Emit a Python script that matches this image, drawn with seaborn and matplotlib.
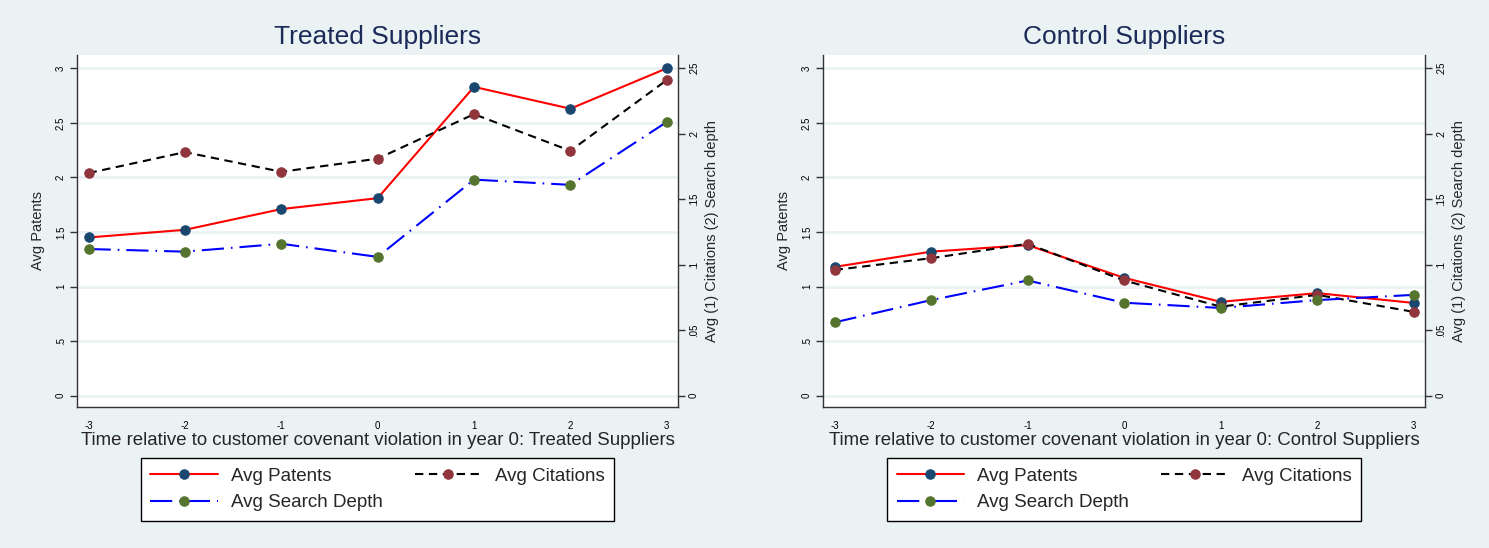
import matplotlib
matplotlib.use("Agg")
import matplotlib.pyplot as plt
import seaborn as sns
import pandas as pd

# Event time relative to the customer covenant violation
years = [-3, -2, -1, 0, 1, 2, 3]

# Treated suppliers
treated_patents = [1.45, 1.52, 1.71, 1.81, 2.83, 2.63, 3.00]
treated_citations = [0.170, 0.186, 0.171, 0.181, 0.215, 0.187, 0.241]
treated_depth = [0.112, 0.110, 0.116, 0.106, 0.165, 0.161, 0.209]

# Control suppliers
control_patents = [1.18, 1.32, 1.38, 1.08, 0.86, 0.94, 0.85]
control_citations = [0.096, 0.105, 0.116, 0.088, 0.068, 0.077, 0.064]
control_depth = [0.056, 0.073, 0.088, 0.071, 0.067, 0.073, 0.077]

left_ticks = [0, 0.5, 1, 1.5, 2, 2.5, 3]
left_labels = ["0", ".5", "1", "1.5", "2", "2.5", "3"]
right_ticks = [0, 0.05, 0.1, 0.15, 0.2, 0.25]
right_labels = ["0", ".05", ".1", ".15", ".2", ".25"]

panels = [
    ("Treated Suppliers", treated_patents, treated_citations, treated_depth),
    ("Control Suppliers", control_patents, control_citations, control_depth),
]

BG = "#EAF2F3"
NAVY = "#1A476F"
MAROON = "#90353B"
OLIVE = "#55752F"
TITLE = "#1C2A5A"
AXC = "#333333"

sns.set_theme(style="white")
plt.rcParams["font.family"] = ["Liberation Sans", "DejaVu Sans"]
plt.rcParams["lines.scale_dashes"] = False

fig = plt.figure(figsize=(14.89, 5.48), dpi=100, facecolor=BG)
W, H = 1489, 548

axes_px = [(77, 678), (823, 1425)]
top_px, bot_px = 55, 407

y_lo, y_hi = -0.1036, 3.122

for (x0, x1), (title, pat, cit, dep) in zip(axes_px, panels):
    ax = fig.add_axes([x0 / W, 1 - bot_px / H, (x1 - x0) / W, (bot_px - top_px) / H])
    ax.set_facecolor("white")
    df = pd.DataFrame({"t": years, "patents": pat, "citations": cit, "depth": dep})

    for y in left_ticks:
        ax.axhline(y, color=BG, lw=2.0, zorder=0)

    sns.lineplot(data=df, x="t", y="patents", ax=ax, color="red", lw=1.5,
                 marker="o", markersize=6.8, markerfacecolor=NAVY,
                 markeredgecolor=NAVY, label="Avg Patents", legend=False)

    ax2 = ax.twinx()
    sns.lineplot(data=df, x="t", y="citations", ax=ax2, color="black", lw=1.5,
                 linestyle=(0, (6, 4)),
                 marker="o", markersize=6.8, markerfacecolor=MAROON,
                 markeredgecolor=MAROON, label="Avg Citations", legend=False)
    sns.lineplot(data=df, x="t", y="depth", ax=ax2, color="blue", lw=1.5,
                 linestyle=(0, (16, 5, 1.2, 5)),
                 marker="o", markersize=6.8, markerfacecolor=OLIVE,
                 markeredgecolor=OLIVE, label="Avg Search Depth", legend=False)

    ax.set_xlim(-3.12, 3.117)
    ax.set_ylim(y_lo, y_hi)
    ax2.set_ylim(y_lo / 12, y_hi / 12)

    ax.set_xticks(years)
    ax.set_xticklabels([str(v) for v in years], fontsize=7)
    ax.set_yticks(left_ticks)
    ax.set_yticklabels(left_labels, fontsize=7, rotation=90, va="center")
    ax2.set_yticks(right_ticks)
    ax2.set_yticklabels(right_labels, fontsize=7, rotation=90, va="center")

    for a in (ax, ax2):
        a.tick_params(axis="both", direction="out", length=5, width=1,
                      color=AXC, labelcolor="black", pad=3)
        for side, sp in a.spines.items():
            sp.set_color(AXC)
            sp.set_linewidth(1.0)
        a.spines["top"].set_visible(False)
    ax.spines["right"].set_visible(False)
    ax2.spines["left"].set_visible(False)
    ax2.spines["bottom"].set_visible(False)
    ax.tick_params(axis="x", pad=5)

    ax.set_ylabel("Avg Patents", fontsize=10.5, labelpad=8)
    ax2.set_ylabel("Avg (1) Citations (2) Search depth", fontsize=10.5, labelpad=4)
    ax.set_xlabel("Time relative to customer covenant violation in year 0: " + title,
                  fontsize=13.4, labelpad=1)

    cx = (x0 + x1) / 2 / W
    fig.text(cx, 1 - 37 / H, title, fontsize=19, color=TITLE,
             ha="center", va="center")

    # column-major fill: Patents / Search Depth in column 1, Citations in column 2
    pat_line = [h for h in ax.get_lines() if h.get_label() == "Avg Patents"][0]
    cit_line = [h for h in ax2.get_lines() if h.get_label() == "Avg Citations"][0]
    dep_line = [h for h in ax2.get_lines() if h.get_label() == "Avg Search Depth"][0]
    handles = [pat_line, dep_line, cit_line]
    leg = fig.legend(handles=handles, labels=[h.get_label() for h in handles],
                     loc="center", bbox_to_anchor=(cx, 1 - 489.5 / H), ncol=2,
                     fontsize=13.5, frameon=True, fancybox=False,
                     edgecolor="black", facecolor="white", framealpha=1,
                     handlelength=3.6, handletextpad=0.7, columnspacing=1.7,
                     labelspacing=0.5, borderpad=0.5, numpoints=1)
    leg.get_frame().set_linewidth(1.0)

fig.savefig("out.png", dpi=100, facecolor=BG)
